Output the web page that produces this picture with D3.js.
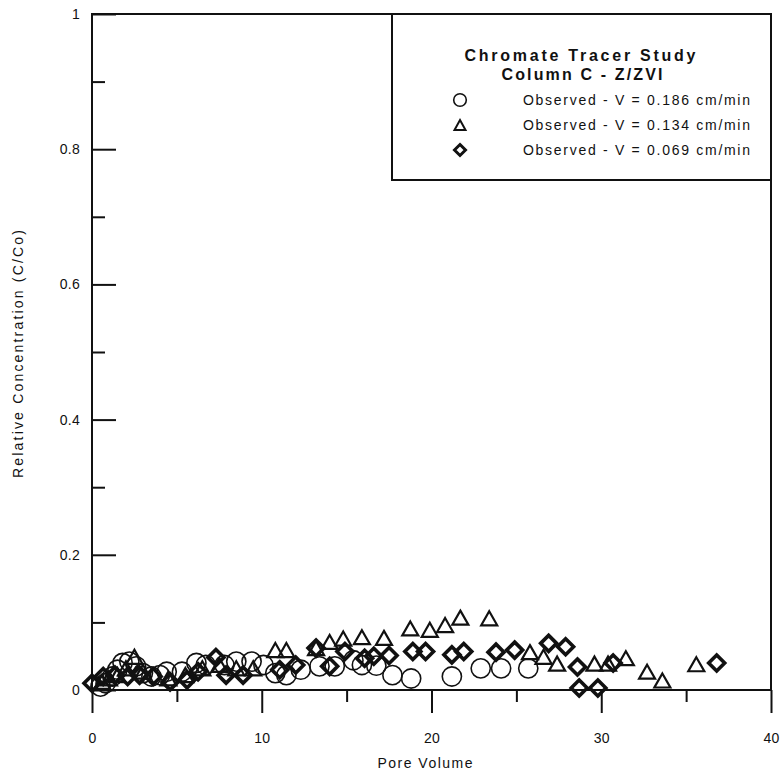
<!DOCTYPE html>
<html><head><meta charset="utf-8">
<script src="https://cdn.jsdelivr.net/npm/d3@7"></script>
<style>
body{margin:0;background:#fff;}
text{font-family:"Liberation Sans",Arial,Helvetica,sans-serif;fill:#111;}
</style></head>
<body><svg id="c" width="782" height="773"></svg>
<script>
// ---- data ----
const legendTitle = ["Chromate Tracer Study", "Column C - Z/ZVI"];
const seriesNames = ["Observed - V = 0.186 cm/min", "Observed - V = 0.134 cm/min", "Observed - V = 0.069 cm/min"];
const xMajorTicks = [0, 10, 20, 30, 40];
const xMinorTicks = [5, 15, 25, 35];
const yMajorTicks = [0, 0.2, 0.4, 0.6, 0.8, 1];
const yMinorTicks = [0.1, 0.3, 0.5, 0.7, 0.9];
const yTickLabels = ["0", "0.2", "0.4", "0.6", "0.8", "1"];
const xTitle = "Pore Volume";
const yTitle = "Relative Concentration (C/Co)";

// V = 0.186 cm/min (circles): [pore volume, C/Co]
const circlePV = [0.5,0.8,1.2,1.5,1.8,2.2,2.6,3.0,3.5,4.0,4.4,5.3,6.15,6.7,7.8,8.5,9.4,10.1,10.8,11.45,12.3,13.4,14.3,15.4,15.9,16.75,17.7,18.8,21.2,22.9,24.1,25.7];
const circleC  = [0.005,0.01,0.02,0.03,0.04,0.042,0.035,0.025,0.02,0.022,0.027,0.027,0.04,0.037,0.037,0.042,0.042,0.037,0.025,0.022,0.03,0.035,0.035,0.044,0.037,0.036,0.022,0.017,0.02,0.032,0.032,0.032];
// V = 0.134 cm/min (triangles)
const triPV = [0.6,1.0,1.5,2.0,2.5,3.0,4.5,5.5,6.5,7.5,8.5,9.5,10.8,11.45,13.2,14.0,14.8,15.9,17.2,18.75,19.9,20.8,21.7,23.4,25.8,26.6,27.4,29.6,30.4,31.45,32.7,33.6,35.6];
const triC  = [0.01,0.015,0.02,0.03,0.047,0.025,0.015,0.02,0.03,0.035,0.03,0.03,0.057,0.057,0.06,0.069,0.074,0.076,0.075,0.089,0.087,0.094,0.105,0.104,0.054,0.047,0.037,0.037,0.037,0.045,0.025,0.012,0.036];
// V = 0.069 cm/min (diamonds)
const diaPV = [0.0,0.66,1.35,2.1,2.8,3.6,4.6,5.6,6.25,7.3,7.9,8.9,11.06,12.0,13.2,14.0,14.9,16.06,16.6,17.5,18.9,19.65,21.2,21.9,23.8,24.9,26.9,27.9,28.6,28.7,29.8,30.7,36.8];
const diaC  = [0.01,0.02,0.022,0.02,0.022,0.02,0.012,0.015,0.027,0.048,0.022,0.022,0.03,0.037,0.062,0.035,0.057,0.047,0.05,0.051,0.057,0.057,0.052,0.057,0.056,0.059,0.069,0.064,0.034,0.003,0.003,0.04,0.04];

// ---- drawing ----
const svg = d3.select("#c");
const x = d3.scaleLinear().domain([0, 40]).range([92, 771]);
const y = d3.scaleLinear().domain([0, 1]).range([690, 14]);

// frame
svg.append("rect").attr("x", x(0)).attr("y", y(1)).attr("width", x(40) - x(0)).attr("height", y(0) - y(1))
  .attr("fill", "none").attr("stroke", "#111").attr("stroke-width", 2);

function styleAxis(g) {
  g.select(".domain").remove();
  g.selectAll(".tick line").attr("stroke", "#111").attr("stroke-width", 2);
  g.selectAll(".tick text").attr("font-size", 14).attr("fill", "#111")
    .attr("font-family", "Liberation Sans, Arial, sans-serif").style("letter-spacing", "0.3px");
}
// x axis
svg.append("g").attr("transform", `translate(0,${y(0)})`)
  .call(d3.axisBottom(x).tickValues(xMajorTicks).tickSize(23).tickPadding(20).tickFormat(d3.format("d")))
  .call(styleAxis);
svg.append("g").attr("transform", `translate(0,${y(0)})`)
  .call(d3.axisBottom(x).tickValues(xMinorTicks).tickSize(12).tickFormat(""))
  .call(styleAxis);
// y axis (inward ticks)
svg.append("g").attr("transform", `translate(${x(0)},0)`)
  .call(d3.axisLeft(y).tickValues(yMajorTicks).tickSize(-24).tickPadding(12).tickFormat((d, i) => yTickLabels[i]))
  .call(styleAxis);
svg.append("g").attr("transform", `translate(${x(0)},0)`)
  .call(d3.axisLeft(y).tickValues(yMinorTicks).tickSize(-13).tickFormat(""))
  .call(styleAxis);

// axis titles
svg.append("text").attr("x", 425).attr("y", 768).attr("text-anchor", "middle").attr("font-size", 14)
  .attr("textLength", 95).attr("lengthAdjust", "spacing").text(xTitle);
svg.append("text").attr("transform", "translate(23,354) rotate(-90)").attr("text-anchor", "middle").attr("font-size", 14)
  .attr("textLength", 248).attr("lengthAdjust", "spacing").text(yTitle);

// markers
const circles = circlePV.map((v, i) => [v, circleC[i]]);
const tris = triPV.map((v, i) => [v, triC[i]]);
const dias = diaPV.map((v, i) => [v, diaC[i]]);

const triPath = (w, h) => `M0,${-h * 0.6}L${w / 2},${h * 0.4}L${-w / 2},${h * 0.4}Z`;
const diaPath = (r) => `M0,${-r}L${r},0L0,${r}L${-r},0Z`;

svg.append("g").selectAll("circle").data(circles).join("circle")
  .attr("cx", d => x(d[0])).attr("cy", d => y(d[1])).attr("r", 9.6)
  .attr("fill", "none").attr("stroke", "#111").attr("stroke-width", 1.6);
svg.append("g").selectAll("path").data(tris).join("path")
  .attr("transform", d => `translate(${x(d[0])},${y(d[1])})`).attr("d", triPath(16, 14))
  .attr("fill", "none").attr("stroke", "#111").attr("stroke-width", 2.2).attr("stroke-linejoin", "miter");
svg.append("g").selectAll("path").data(dias).join("path")
  .attr("transform", d => `translate(${x(d[0])},${y(d[1])})`).attr("d", diaPath(8))
  .attr("fill", "none").attr("stroke", "#111").attr("stroke-width", 3.6);

// legend
const lg = svg.append("g");
lg.append("rect").attr("x", 392).attr("y", 14).attr("width", 771 - 392).attr("height", 166)
  .attr("fill", "#fff").attr("stroke", "#111").attr("stroke-width", 2);
lg.append("text").attr("x", 580).attr("y", 61).attr("text-anchor", "middle").attr("font-size", 16).attr("font-weight", "bold")
  .attr("textLength", 231).attr("lengthAdjust", "spacing").text(legendTitle[0]);
lg.append("text").attr("x", 582).attr("y", 80).attr("text-anchor", "middle").attr("font-size", 16).attr("font-weight", "bold")
  .attr("textLength", 161).attr("lengthAdjust", "spacing").text(legendTitle[1]);
const rowY = [100, 125, 150];
seriesNames.forEach((name, i) => {
  lg.append("text").attr("x", 523).attr("y", rowY[i] + 5).attr("font-size", 14)
    .attr("textLength", 227).attr("lengthAdjust", "spacing").text(name);
});
lg.append("circle").attr("cx", 460).attr("cy", rowY[0]).attr("r", 6.3).attr("fill", "none").attr("stroke", "#111").attr("stroke-width", 1.6);
lg.append("path").attr("transform", `translate(460,${rowY[1] + 1})`).attr("d", triPath(11, 10)).attr("fill", "none").attr("stroke", "#111").attr("stroke-width", 2);
lg.append("path").attr("transform", `translate(460,${rowY[2]})`).attr("d", diaPath(5.5)).attr("fill", "none").attr("stroke", "#111").attr("stroke-width", 3);
</script></body></html>
